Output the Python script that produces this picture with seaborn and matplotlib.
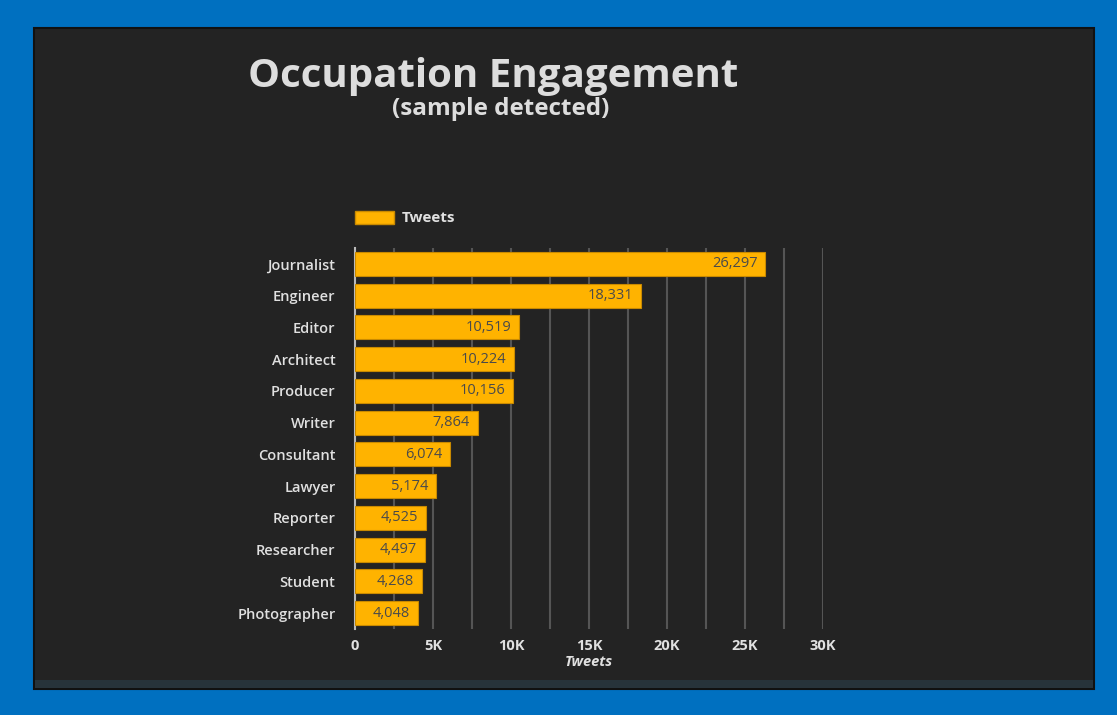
import pandas as pd
import seaborn as sns
import matplotlib.pyplot as plt
from matplotlib.patches import Rectangle, Patch

occupations = ["Journalist", "Engineer", "Editor", "Architect", "Producer", "Writer",
               "Consultant", "Lawyer", "Reporter", "Researcher", "Student", "Photographer"]
tweets = [26297, 18331, 10519, 10224, 10156, 7864, 6074, 5174, 4525, 4497, 4268, 4048]
xticks = [0, 5000, 10000, 15000, 20000, 25000, 30000]
xtick_labels = ["0", "5K", "10K", "15K", "20K", "25K", "30K"]

df = pd.DataFrame({"Occupation": occupations, "Tweets": tweets})

bar_color = "#FFB300"
text_color = "#E0E0E0"
panel_color = "#232323"

sns.set_style("dark")
plt.rcParams["font.family"] = ["Open Sans", "DejaVu Sans"]

fig = plt.figure(figsize=(11.17, 7.15), dpi=100)
fig.patch.set_facecolor("#0070C0")

# dark panel behind the chart
W, H = 1117, 715
fig.patches.append(Rectangle((34 / W, 26 / H), 1060 / W, 661 / H, transform=fig.transFigure,
                             facecolor=panel_color, edgecolor="#111111", linewidth=1.5, zorder=-2))
fig.patches.append(Rectangle((35 / W, 27 / H), 1058 / W, 8 / H, transform=fig.transFigure,
                             facecolor="#27333a", edgecolor="none", zorder=-1))

ax = fig.add_axes([355 / W, 86 / H, 468 / W, 381 / H])
ax.set_facecolor(panel_color)
ax.patch.set_alpha(0)
ax.set_zorder(1)

sns.barplot(data=df, x="Tweets", y="Occupation", color=bar_color, saturation=1,
            width=0.76, edgecolor="#C98A00", linewidth=0.8, ax=ax, zorder=3)

ax.set_xlim(0, 30000)
ax.set_ylim(11.5, -0.5)
ax.set_xticks(xticks)
ax.set_xticklabels(xtick_labels, fontsize=10.5, fontweight="bold", color=text_color)
ax.set_xticks(range(2500, 30000, 5000), minor=True)
ax.tick_params(axis="x", which="both", length=0, pad=7)
ax.tick_params(axis="y", length=0, pad=14)
ax.grid(axis="x", which="both", color="#555555", linewidth=1.5, zorder=0)
ax.grid(axis="y", visible=False)
for lbl in ax.get_yticklabels():
    lbl.set_fontsize(10.5)
    lbl.set_fontweight("semibold")
    lbl.set_color(text_color)

for s in ["top", "right", "bottom"]:
    ax.spines[s].set_visible(False)
ax.spines["left"].set_color("#BBBBBB")
ax.spines["left"].set_linewidth(1.5)

ax.set_ylabel("")
ax.set_xlabel("Tweets", fontsize=10.5, fontstyle="italic", fontweight="bold", color=text_color, labelpad=2)

for i, v in enumerate(tweets):
    ax.text(v - 500, i, f"{v:,}", ha="right", va="center", fontsize=10.5,
            color="#4a4a4a", zorder=4)

leg = ax.legend(handles=[Patch(facecolor=bar_color, edgecolor="#C98A00", label="Tweets")],
                loc="lower left", bbox_to_anchor=(-0.012, 1.045), frameon=False,
                handlelength=2.8, handleheight=1.0, handletextpad=0.6, borderaxespad=0)
for t in leg.get_texts():
    t.set_color(text_color)
    t.set_fontsize(11)
    t.set_fontweight("bold")

fig.text(493 / W, 1 - 76 / H, "Occupation Engagement", ha="center", va="center",
         fontsize=29, fontweight="bold", color="#DDDDDD")
fig.text(501 / W, 1 - 109 / H, "(sample detected)", ha="center", va="center",
         fontsize=17.5, fontweight="bold", color="#DDDDDD")

plt.savefig("out.png", dpi=100, facecolor=fig.get_facecolor())
